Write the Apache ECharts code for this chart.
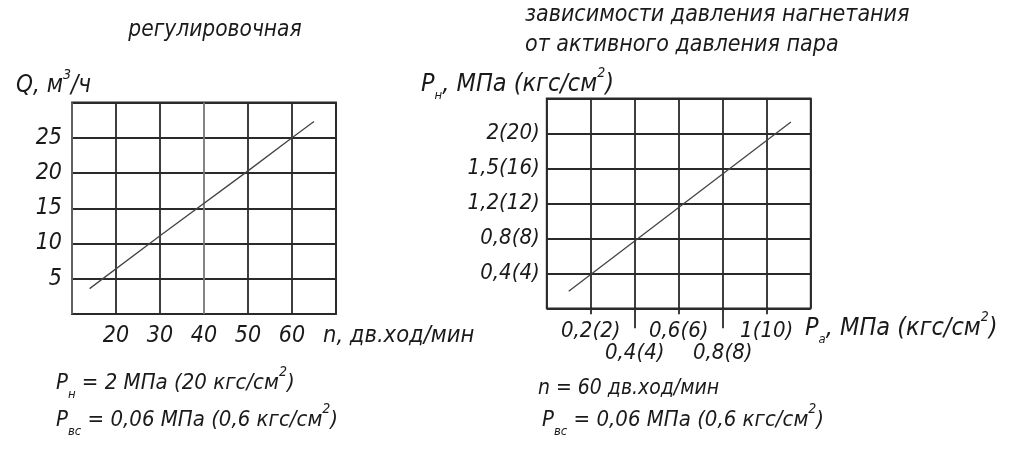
<!DOCTYPE html>
<html>
<head>
<meta charset="utf-8">
<script src="https://cdn.jsdelivr.net/npm/echarts@6/dist/echarts.min.js"></script>
<style>
html,body{margin:0;padding:0;background:#fff;}
#c{width:1024px;height:458px;}
</style>
</head>
<body>
<div id="c"></div>
<script>
// ---- Left chart: Q vs n ----
var leftN = [14, 30, 50, 60, 65];          // n, дв.ход/мин
var leftQ = [3.6, 11.1, 20.3, 25.0, 27.3];  // Q, м3/ч
var leftXTicks = [20, 30, 40, 50, 60];
var leftYTicks = [5, 10, 15, 20, 25];

// ---- Right chart: Pн vs Pа ----
var rightPa = [0.1, 0.6, 1.11];            // Pа, МПа
var rightPnRow = [0.49, 2.88, 5.32];        // Pн, position in grid rows (nonlinear scale)
var rightXTickValuesUpper = [0.2, 0.6, 1.0];
var rightXTickValuesLower = [0.4, 0.8];
var rightXLabels = {2: '0,2(2)', 4: '0,4(4)', 6: '0,6(6)', 8: '0,8(8)', 10: '1(10)'};
var rightYTickRows = [1, 2, 3, 4, 5];
var rightYLabels = ['0,4(4)', '0,8(8)', '1,2(12)', '1,5(16)', '2(20)'];

var FONT = "'DejaVu Sans Condensed', 'Liberation Sans Narrow', sans-serif";
var INK = '#1a1a1a';
var GRIDC = '#2a2a2a';
var GW = 1.8;

function tf(size) { return {fontFamily: FONT, fontStyle: 'italic', fontSize: size, color: INK}; }

function rich(size) {
  return {
    a: {fontFamily: FONT, fontStyle: 'italic', fontSize: size, color: INK, lineHeight: 36, verticalAlign: 'middle'},
    s: {fontFamily: FONT, fontStyle: 'italic', fontSize: 13, color: INK, lineHeight: 36, verticalAlign: 'bottom'},
    p: {fontFamily: FONT, fontStyle: 'italic', fontSize: 14, color: INK, lineHeight: 36, verticalAlign: 'top'}
  };
}
function txt(x, y, text, size, align) {
  return {
    type: 'text', x: x, y: y, silent: true,
    style: {text: text, rich: rich(size || 24), align: align || 'left', verticalAlign: 'middle',
            font: 'italic ' + (size || 24) + 'px ' + FONT, fill: INK}
  };
}
function rightXFmt(v) { return rightXLabels[Math.round(v * 10)] || ''; }

var chart = echarts.init(document.getElementById('c'), null, {renderer: 'canvas'});
chart.setOption({
  animation: false,
  backgroundColor: '#fff',
  grid: [
    {left: 72, top: 102.5, width: 264, height: 211.5, show: true, borderColor: GRIDC, borderWidth: GW, containLabel: false},
    {left: 546.7, top: 98.3, width: 264, height: 210, show: true, borderColor: GRIDC, borderWidth: GW, containLabel: false}
  ],
  xAxis: [
    {gridIndex: 0, type: 'value', min: 10, max: 70, interval: 10, position: 'bottom',
     axisLine: {show: false}, axisTick: {show: false},
     splitLine: {show: true, lineStyle: {color: ['#666', GRIDC, GRIDC, '#777', GRIDC, GRIDC, GRIDC], width: GW}},
     axisLabel: Object.assign({customValues: leftXTicks, margin: 11}, tf(23))},
    // grid lines of the right chart
    {gridIndex: 1, type: 'value', min: 0, max: 1.2, interval: 0.2, position: 'bottom',
     axisLine: {show: false}, axisTick: {show: false}, axisLabel: {show: false},
     splitLine: {show: true, lineStyle: {color: GRIDC, width: GW}}},
    // upper row of labels with short ticks
    {gridIndex: 1, type: 'value', min: 0, max: 1.2, interval: 0.2, position: 'bottom',
     axisLine: {show: false}, splitLine: {show: false},
     axisTick: {show: true, customValues: rightXTickValuesUpper, length: 6, lineStyle: {color: GRIDC, width: GW}},
     axisLabel: Object.assign({customValues: rightXTickValuesUpper, margin: 12, formatter: rightXFmt}, tf(22))},
    // lower row of labels with long ticks
    {gridIndex: 1, type: 'value', min: 0, max: 1.2, interval: 0.2, position: 'bottom',
     axisLine: {show: false}, splitLine: {show: false},
     axisTick: {show: true, customValues: rightXTickValuesLower, length: 20, lineStyle: {color: GRIDC, width: GW}},
     axisLabel: Object.assign({customValues: rightXTickValuesLower, margin: 34, formatter: rightXFmt}, tf(22))}
  ],
  yAxis: [
    {gridIndex: 0, type: 'value', min: 0, max: 30, interval: 5,
     axisLine: {show: false}, axisTick: {show: false},
     splitLine: {show: true, lineStyle: {color: GRIDC, width: GW}},
     axisLabel: Object.assign({customValues: leftYTicks, margin: 10}, tf(23))},
    {gridIndex: 1, type: 'value', min: 0, max: 6, interval: 1,
     axisLine: {show: false}, axisTick: {show: false},
     splitLine: {show: true, lineStyle: {color: GRIDC, width: GW}},
     axisLabel: Object.assign({customValues: rightYTickRows, margin: 7,
       formatter: function (v) { return rightYLabels[Math.round(v) - 1] || ''; }}, tf(22))}
  ],
  series: [
    {type: 'line', xAxisIndex: 0, yAxisIndex: 0, symbol: 'none',
     data: leftN.map(function (n, i) { return [n, leftQ[i]]; }),
     lineStyle: {color: '#444', width: 1.3}},
    {type: 'line', xAxisIndex: 1, yAxisIndex: 1, symbol: 'none',
     data: rightPa.map(function (p, i) { return [p, rightPnRow[i]]; }),
     lineStyle: {color: '#444', width: 1.3}}
  ],
  graphic: [
    txt(215, 30, '{a|регулировочная}', 22.5, 'center'),
    txt(525, 15, '{a|зависимости давления нагнетания}', 23),
    txt(525, 45, '{a|от активного давления пара}', 23),
    txt(16, 86, '{a|Q, м}{p|3}{a|/ч}', 24),
    txt(323, 336, '{a|n, дв.ход/мин}', 23.5),
    txt(421, 84, '{a|P}{s|н}{a|, МПа (кгс/см}{p|2}{a|)}', 25),
    txt(805, 328, '{a|P}{s|а}{a|, МПа (кгс/см}{p|2}{a|)}', 25),
    txt(56, 383, '{a|P}{s|н}{a| = 2 МПа (20 кгс/см}{p|2}{a|)}', 22),
    txt(56, 420, '{a|P}{s|вс}{a| = 0,06 МПа (0,6 кгс/см}{p|2}{a|)}', 22),
    txt(538, 389, '{a|n = 60 дв.ход/мин}', 21),
    txt(542, 420, '{a|P}{s|вс}{a| = 0,06 МПа (0,6 кгс/см}{p|2}{a|)}', 22)
  ]
});
</script>
</body>
</html>
